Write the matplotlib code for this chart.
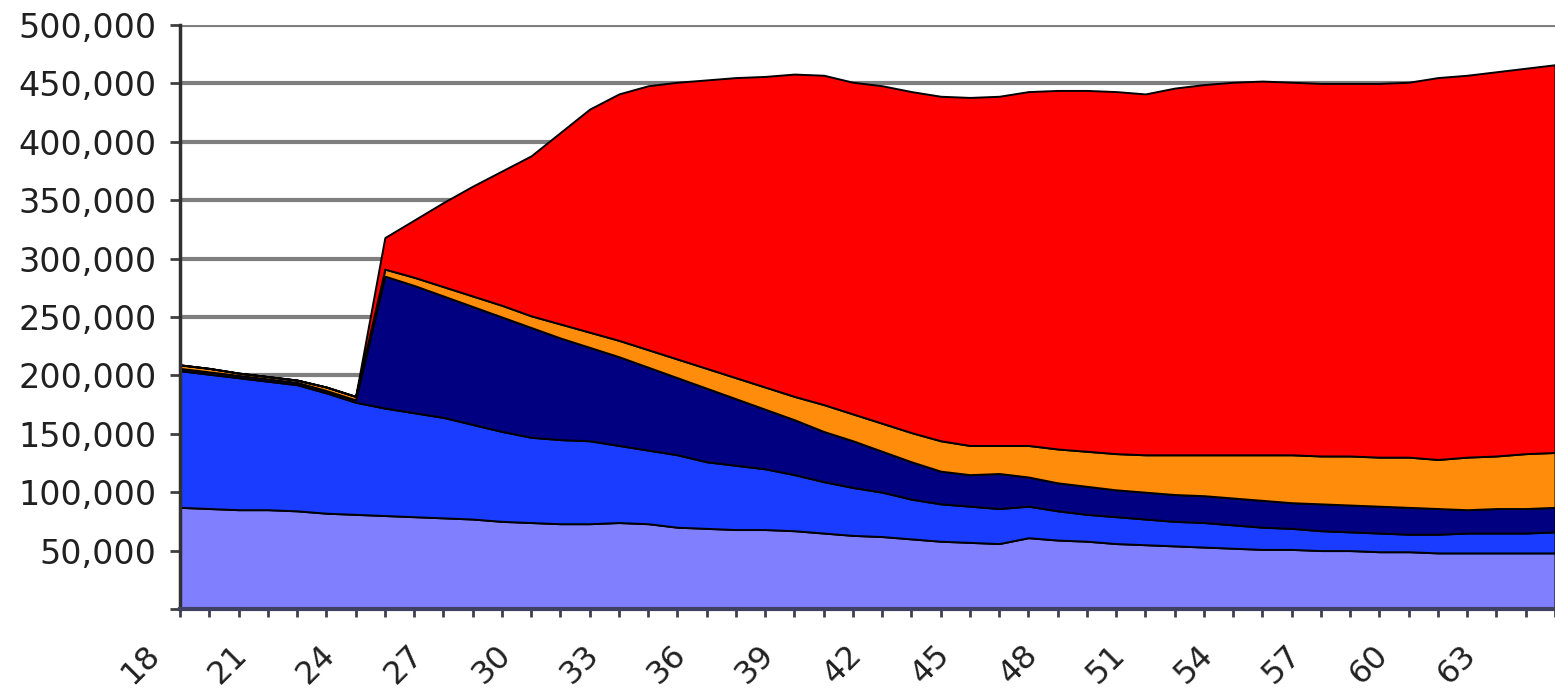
import numpy as np
import matplotlib as mpl
mpl.use('Agg')
from matplotlib import pyplot as plt
from matplotlib.ticker import FuncFormatter, MultipleLocator
import matplotlib.transforms as mtransforms

# ages on the category axis
ages = list(range(18, 66))

# stacked series, in thousands (bottom to top)
lavender = [87, 86, 85, 85, 84, 82, 81, 80, 79, 78, 77, 75, 74, 73, 73, 74,
            73, 70, 69, 68, 68, 67, 65, 63, 62, 60, 58, 57, 56, 61, 59, 58,
            56, 55, 54, 53, 52, 51, 51, 50, 50, 49, 49, 48, 48, 48, 48, 48]
blue = [117, 115, 113, 110, 108, 103, 96, 92, 89, 86, 81, 77, 73, 72, 71, 66,
        63, 62, 57, 55, 52, 48, 44, 41, 38, 34, 32, 31, 30, 27, 25, 23,
        23, 22, 21, 21, 20, 19, 18, 17, 16, 16, 15, 16, 17, 17, 17, 18]
navy = [2, 2, 2, 2, 2, 2, 2, 113, 109, 104, 101, 98, 94, 87, 80, 76,
        71, 66, 63, 57, 51, 47, 43, 40, 35, 32, 28, 27, 30, 25, 24, 24,
        23, 23, 23, 23, 23, 23, 22, 23, 23, 23, 23, 22, 20, 21, 21, 21]
orange = [3, 3, 2, 2, 2, 3, 3, 6, 7, 8, 9, 10, 10, 12, 13, 14,
          15, 16, 17, 18, 19, 20, 23, 23, 24, 25, 26, 25, 24, 27, 29, 30,
          31, 32, 34, 35, 37, 39, 41, 41, 42, 42, 43, 42, 45, 45, 47, 47]
red = [0, 0, 0, 0, 0, 0, 0, 27, 49, 72, 94, 115, 137, 164, 191, 211,
       226, 237, 247, 257, 266, 276, 282, 284, 289, 292, 295, 298, 299, 303, 307, 309,
       310, 309, 314, 317, 319, 320, 319, 319, 319, 320, 321, 327, 327, 329, 330, 332]

colors = ['#8080ff', '#1a3cff', '#000080', '#ff8c0a', '#ff0000']

fig = plt.figure(figsize=(15.55, 6.99), dpi=100)
ax = fig.add_axes([0.1158, 0.1288, 0.8842, 0.8354])

series = [np.array(s) * 1000 for s in (lavender, blue, navy, orange, red)]
ax.stackplot(ages, *series, colors=colors, edgecolor='black', linewidth=1.4, zorder=3)

ax.set_xlim(18, 64.6)
ax.set_ylim(0, 500000)

# gridlines
ax.yaxis.set_major_locator(MultipleLocator(50000))
ax.grid(axis='y', color='#7f7f7f', linewidth=3, zorder=0)
ax.set_axisbelow(True)

ax.yaxis.set_major_formatter(FuncFormatter(lambda v, p: '' if v == 0 else '{:,.0f}'.format(v)))
ax.tick_params(axis='y', labelsize=24, length=7, width=2, color='#404040',
               labelcolor='#202020', pad=10)

ax.set_xticks(ages, minor=True)
ax.set_xticks(list(range(18, 65, 3)))
ax.set_xticklabels([str(a) for a in range(18, 65, 3)], rotation=45,
                   ha='right', va='top')
ax.tick_params(axis='x', which='both', length=6, width=2, color='#404050',
               labelsize=23, labelcolor='#202020', pad=16)

# pull the slanted labels a bit left of their ticks
shift = mtransforms.ScaledTranslation(-10 / 72, 0, fig.dpi_scale_trans)
for lab in ax.get_xticklabels():
    lab.set_transform(lab.get_transform() + shift)

for side in ['top', 'right']:
    ax.spines[side].set_visible(False)
ax.spines['left'].set_color('#303030')
ax.spines['left'].set_linewidth(2.5)
ax.spines['bottom'].set_color('#404060')
ax.spines['bottom'].set_linewidth(3)
ax.spines['left'].set_zorder(4)
ax.spines['bottom'].set_zorder(4)

for lab in ax.get_xticklabels() + ax.get_yticklabels():
    lab.set_family('DejaVu Sans')

plt.savefig('out.png', dpi=100)
